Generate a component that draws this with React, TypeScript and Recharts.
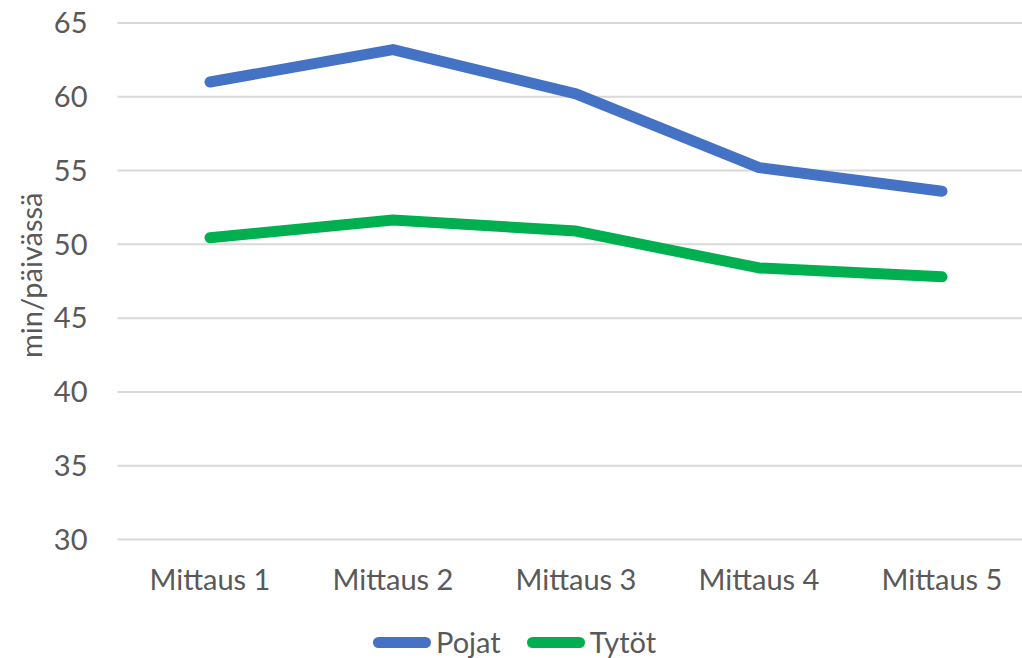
import React from 'react';
import { LineChart, Line, XAxis, YAxis, CartesianGrid, Legend, Label } from 'recharts';

const categories = ['Mittaus 1', 'Mittaus 2', 'Mittaus 3', 'Mittaus 4', 'Mittaus 5'];
const pojat = [61.0, 63.2, 60.2, 55.2, 53.6];
const tytot = [50.45, 51.65, 50.9, 48.4, 47.8];
const yTicks = [30, 35, 40, 45, 50, 55, 60, 65];

const data = categories.map((c, i) => ({ name: c, Pojat: pojat[i], Tytöt: tytot[i] }));

const FONT = 'Lato, "Noto Sans", sans-serif';
const TEXT = '#595959';
const FS = 29;

const legendItems = [
  { label: 'Pojat', color: '#4472C4' },
  { label: 'Tytöt', color: '#00B050' },
];

const LegendContent = () => (
  <div style={{ display: 'flex', alignItems: 'center', fontFamily: FONT, fontSize: FS, color: TEXT, height: 30 }}>
    {legendItems.map((it, i) => (
      <div key={it.label} style={{ display: 'flex', alignItems: 'center', marginRight: i === 0 ? 26 : 0 }}>
        <div style={{ width: 58, height: 11, borderRadius: 6, background: it.color, marginRight: 5 }} />
        <span style={{ lineHeight: '30px' }}>{it.label}</span>
      </div>
    ))}
  </div>
);

export default function App() {
  return (
    <div style={{ position: 'absolute', left: 0, top: 0, width: 1022, height: 658, background: '#fff' }}>
      <LineChart width={1022} height={658} data={data} margin={{ top: 23, right: 0, left: 0, bottom: 0 }}>
        <CartesianGrid vertical={false} stroke="#D9D9D9" strokeWidth={2} />
        <XAxis
          dataKey="name"
          axisLine={false}
          tickLine={false}
          tickSize={0}
          tickMargin={30}
          height={88.5}
          padding={{ left: 92.5, right: 80 }}
          interval={0}
          tick={{ fill: TEXT, fontSize: FS, fontFamily: FONT }}
        />
        <YAxis
          domain={[30, 65]}
          ticks={yTicks}
          axisLine={false}
          tickLine={false}
          tickSize={0}
          tickMargin={30}
          width={117.5}
          tick={{ fill: TEXT, fontSize: FS, fontFamily: FONT }}
        >
          <Label
            content={({ viewBox }: any) => {
              const cy = viewBox.y + viewBox.height / 2 - 6;
              return (
                <text
                  x={42}
                  y={cy}
                  transform={`rotate(-90, 42, ${cy})`}
                  textAnchor="middle"
                  fill={TEXT}
                  fontSize={FS}
                  fontFamily={FONT}
                >
                  min/päivässä
                </text>
              );
            }}
          />
        </YAxis>
        <Legend content={<LegendContent />} wrapperStyle={{ position: 'absolute', top: 627, left: 373, width: 'auto', height: 30 }} />
        <Line type="linear" dataKey="Pojat" stroke="#4472C4" strokeWidth={11} strokeLinecap="round" strokeLinejoin="round" dot={false} isAnimationActive={false} />
        <Line type="linear" dataKey="Tytöt" stroke="#00B050" strokeWidth={11} strokeLinecap="round" strokeLinejoin="round" dot={false} isAnimationActive={false} />
      </LineChart>
    </div>
  );
}
